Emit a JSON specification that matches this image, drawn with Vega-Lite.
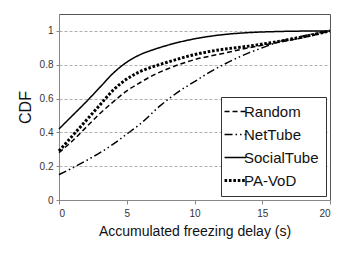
{
  "$schema": "https://vega.github.io/schema/vega-lite/v6.json",
  "width": 271,
  "height": 186,
  "autosize": {"type": "none"},
  "padding": {"left": 59, "top": 14, "right": 26, "bottom": 53},
  "background": "white",
  "config": {
    "font": "Liberation Sans",
    "view": {"stroke": "#555", "strokeWidth": 1}
  },
  "data": {
    "values": [
      {"s": "Random", "x": 0, "y": 0.28}, {"s": "Random", "x": 1, "y": 0.35}, {"s": "Random", "x": 2, "y": 0.43}, {"s": "Random", "x": 3, "y": 0.51}, {"s": "Random", "x": 4, "y": 0.58}, {"s": "Random", "x": 5, "y": 0.645}, {"s": "Random", "x": 6, "y": 0.695}, {"s": "Random", "x": 7, "y": 0.74}, {"s": "Random", "x": 8, "y": 0.775}, {"s": "Random", "x": 10, "y": 0.83}, {"s": "Random", "x": 12, "y": 0.865}, {"s": "Random", "x": 14, "y": 0.9}, {"s": "Random", "x": 16, "y": 0.93}, {"s": "Random", "x": 18, "y": 0.96}, {"s": "Random", "x": 20, "y": 1.0},
      {"s": "NetTube", "x": 0, "y": 0.15}, {"s": "NetTube", "x": 1, "y": 0.19}, {"s": "NetTube", "x": 2.5, "y": 0.255}, {"s": "NetTube", "x": 4, "y": 0.33}, {"s": "NetTube", "x": 5, "y": 0.39}, {"s": "NetTube", "x": 6, "y": 0.45}, {"s": "NetTube", "x": 7.5, "y": 0.56}, {"s": "NetTube", "x": 9, "y": 0.65}, {"s": "NetTube", "x": 10, "y": 0.7}, {"s": "NetTube", "x": 11, "y": 0.75}, {"s": "NetTube", "x": 12.5, "y": 0.815}, {"s": "NetTube", "x": 14, "y": 0.87}, {"s": "NetTube", "x": 15, "y": 0.9}, {"s": "NetTube", "x": 16, "y": 0.93}, {"s": "NetTube", "x": 18, "y": 0.97}, {"s": "NetTube", "x": 20, "y": 1.0},
      {"s": "SocialTube", "x": 0, "y": 0.42}, {"s": "SocialTube", "x": 1, "y": 0.5}, {"s": "SocialTube", "x": 2, "y": 0.58}, {"s": "SocialTube", "x": 3, "y": 0.665}, {"s": "SocialTube", "x": 4, "y": 0.75}, {"s": "SocialTube", "x": 5, "y": 0.815}, {"s": "SocialTube", "x": 6, "y": 0.86}, {"s": "SocialTube", "x": 7, "y": 0.89}, {"s": "SocialTube", "x": 8, "y": 0.915}, {"s": "SocialTube", "x": 10, "y": 0.953}, {"s": "SocialTube", "x": 12, "y": 0.977}, {"s": "SocialTube", "x": 14, "y": 0.99}, {"s": "SocialTube", "x": 16, "y": 0.996}, {"s": "SocialTube", "x": 18, "y": 0.999}, {"s": "SocialTube", "x": 20, "y": 1.0},
      {"s": "PA-VoD", "x": 0, "y": 0.29}, {"s": "PA-VoD", "x": 1, "y": 0.38}, {"s": "PA-VoD", "x": 2, "y": 0.47}, {"s": "PA-VoD", "x": 3, "y": 0.56}, {"s": "PA-VoD", "x": 4, "y": 0.65}, {"s": "PA-VoD", "x": 5, "y": 0.715}, {"s": "PA-VoD", "x": 6, "y": 0.76}, {"s": "PA-VoD", "x": 7, "y": 0.79}, {"s": "PA-VoD", "x": 8, "y": 0.815}, {"s": "PA-VoD", "x": 10, "y": 0.86}, {"s": "PA-VoD", "x": 12, "y": 0.89}, {"s": "PA-VoD", "x": 14, "y": 0.91}, {"s": "PA-VoD", "x": 16, "y": 0.935}, {"s": "PA-VoD", "x": 18, "y": 0.965}, {"s": "PA-VoD", "x": 20, "y": 1.0}
    ]
  },
  "encoding": {
    "x": {
      "field": "x", "type": "quantitative",
      "scale": {"domain": [0, 20], "nice": false},
      "axis": {
        "values": [0, 5, 10, 15, 20], "title": "Accumulated freezing delay (s)",
        "grid": false, "domainColor": "#888", "tickColor": "#888", "tickSize": 4,
        "labelFontSize": 10, "labelColor": "#333", "labelPadding": 4,
        "titleFontSize": 14, "titleFontWeight": "normal", "titleColor": "#111", "titlePadding": 6
      }
    },
    "y": {
      "field": "y", "type": "quantitative",
      "scale": {"domain": [0, 1.1], "nice": false},
      "axis": {
        "values": [0, 0.2, 0.4, 0.6, 0.8, 1], "format": ".1~f", "title": "CDF",
        "grid": true, "gridDash": [3, 2], "gridColor": "#999", "gridWidth": 0.8,
        "domainColor": "#888", "tickColor": "#888", "tickSize": 3,
        "labelFontSize": 10, "labelColor": "#333", "labelPadding": 3,
        "titleFontSize": 16, "titleFontWeight": "normal", "titleColor": "#111", "titlePadding": 6
      }
    },
    "strokeDash": {
      "field": "s", "type": "nominal", "title": null,
      "scale": {"domain": ["Random", "NetTube", "SocialTube", "PA-VoD"], "range": [[5, 3], [8, 3, 1.5, 3, 1.5, 3], [1, 0], [2.6, 1.8]]},
      "legend": {
        "orient": "bottom-right", "offset": 4,
        "strokeColor": "#333", "fillColor": "white", "padding": 7,
        "symbolType": "stroke", "symbolSize": 480, "symbolStrokeColor": "black",
        "labelFontSize": 15, "labelColor": "#111", "labelOffset": 1,
        "rowPadding": 7, "symbolOffset": 0,
        "encode": {"symbols": {"update": {"strokeWidth": {"signal": "datum.value === 'PA-VoD' ? 3 : 1.5"}}}}
      }
    }
  },
  "layer": [
    {
      "transform": [{"filter": "datum.s !== 'PA-VoD'"}],
      "mark": {"type": "line", "interpolate": "monotone", "color": "black", "strokeWidth": 1.5, "strokeCap": "butt"}
    },
    {
      "transform": [{"filter": "datum.s === 'PA-VoD'"}],
      "mark": {"type": "line", "interpolate": "monotone", "color": "black", "strokeWidth": 3, "strokeCap": "butt"}
    }
  ]
}
